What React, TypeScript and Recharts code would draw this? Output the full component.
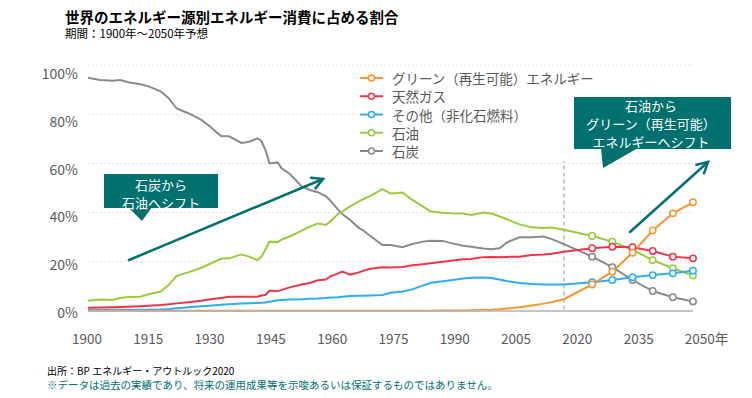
import React from "react";
import { LineChart, Line, XAxis, YAxis, CartesianGrid, ReferenceLine } from "recharts";

const years = [
  1900, 1903, 1906, 1908, 1910, 1913, 1915, 1918, 1920, 1922, 1925, 1928, 1930, 1933, 1935,
  1938, 1940, 1942, 1943, 1944, 1945, 1947, 1948, 1950, 1953, 1955, 1957, 1959, 1960, 1962,
  1963, 1965, 1967, 1968, 1970, 1973, 1975, 1978, 1980, 1983, 1985, 1988, 1990, 1993, 1995,
  1998, 2000, 2002, 2004, 2007, 2010, 2013, 2015, 2018, 2025, 2030, 2035, 2040, 2045, 2050,
];

const coal = [
  94.8, 93.9, 93.6, 93.9, 93.0, 92.2, 91.3, 89.3, 86.5, 82.3, 80.3, 77.8, 75.3, 71.1, 71.0,
  68.3, 68.8, 70.2, 69.0, 65.4, 60.0, 60.4, 58.0, 55.8, 50.6, 49.2, 48.3, 46.6, 45.0, 41.2,
  39.5, 37.0, 34.0, 33.0, 30.5, 26.8, 26.8, 25.9, 27.0, 28.2, 28.6, 28.5, 27.6, 26.5, 26.1,
  25.4, 25.1, 25.5, 28.0, 30.0, 30.0, 30.3, 29.2, 27.2, 22.1, 17.8, 12.6, 8.1, 5.6, 3.9,
];

const oil = [
  4.2, 4.7, 4.5, 5.3, 5.7, 5.8, 6.8, 7.9, 10.6, 14.3, 15.8, 17.5, 19.0, 21.2, 21.4,
  23.0, 22.1, 20.7, 22.0, 25.0, 28.2, 28.0, 29.0, 30.3, 32.7, 34.3, 35.6, 35.0, 36.3, 39.5,
  40.4, 42.5, 44.4, 45.3, 46.8, 49.5, 47.8, 48.2, 45.6, 42.5, 40.4, 39.9, 39.7, 39.6, 39.0,
  40.0, 39.6, 38.5, 37.2, 35.2, 34.0, 33.7, 33.9, 33.0, 30.5, 28.2, 24.8, 20.7, 17.4, 14.4,
];

const gas = [
  1.3, 1.4, 1.5, 1.6, 1.7, 1.9, 2.1, 2.4, 2.7, 3.1, 3.6, 4.2, 4.7, 5.3, 5.8,
  5.8, 5.8, 5.8, 6.3, 6.5, 8.3, 8.0, 8.6, 9.6, 10.8, 11.4, 12.5, 12.8, 14.0, 15.3,
  16.0, 14.8, 15.6, 16.2, 17.2, 17.8, 17.7, 17.9, 18.5, 19.0, 19.4, 20.0, 20.4, 21.0, 21.1,
  21.9, 22.0, 21.8, 22.0, 22.1, 22.8, 23.0, 23.3, 24.1, 25.5, 26.1, 25.9, 24.4, 22.1, 21.4,
];

const other = [
  0.5, 0.5, 0.5, 0.5, 0.5, 0.5, 0.5, 0.6, 0.8, 1.1, 1.5, 1.9, 2.1, 2.5, 2.7,
  3.0, 3.2, 3.3, 3.4, 3.5, 3.8, 4.4, 4.5, 4.7, 4.8, 5.0, 5.1, 5.3, 5.5, 5.6,
  5.8, 6.1, 6.2, 6.2, 6.3, 6.5, 7.4, 7.9, 8.6, 10.3, 11.5, 12.1, 12.5, 13.2, 13.5,
  13.6, 13.4, 12.8, 12.1, 11.4, 11.0, 10.8, 10.8, 10.8, 11.7, 12.6, 13.7, 14.6, 15.3, 16.4,
];

const renewables = [
  0.1, 0.1, 0.1, 0.1, 0.1, 0.1, 0.1, 0.1, 0.1, 0.1, 0.1, 0.1, 0.1, 0.1, 0.1,
  0.1, 0.1, 0.1, 0.1, 0.1, 0.1, 0.1, 0.1, 0.1, 0.1, 0.1, 0.1, 0.1, 0.1, 0.1,
  0.1, 0.1, 0.1, 0.1, 0.1, 0.1, 0.1, 0.1, 0.1, 0.1, 0.1, 0.2, 0.2, 0.2, 0.3,
  0.4, 0.5, 0.7, 1.0, 1.5, 2.2, 3.0, 3.6, 4.8, 10.8, 16.0, 23.7, 32.7, 39.7, 44.2,
];

const xTicks = [1900, 1915, 1930, 1945, 1960, 1975, 1990, 2005, 2020, 2035, 2050];
const yTicks = [0, 20, 40, 60, 80, 100];
const forecastFrom = 2018;
const markerFrom = 2025;

// draw order (last on top)
const series = [
  { key: "coal", name: "石炭", color: "#8C8890" },
  { key: "oil", name: "石油", color: "#9BCB3C" },
  { key: "other", name: "その他（非化石燃料）", color: "#2DAEF0" },
  { key: "gas", name: "天然ガス", color: "#F0354A" },
  { key: "renewables", name: "グリーン（再生可能）エネルギー", color: "#F7952E" },
];
const legendOrder = ["renewables", "gas", "other", "oil", "coal"];

const data = years.map((year, i) => ({
  year,
  coal: coal[i],
  oil: oil[i],
  gas: gas[i],
  other: other[i],
  renewables: renewables[i],
}));

const FONT = "'Noto Sans CJK JP', 'Noto Sans', sans-serif";
const TEAL = "#00716F";

const makeDot = (color: string) => (props: any) => {
  const { cx, cy, payload, index } = props;
  if (payload.year < markerFrom) return <g key={`d${index}`} />;
  return <circle key={`d${index}`} cx={cx} cy={cy} r={3.2} fill="#fff" stroke={color} strokeWidth={1.5} />;
};

const XTick = (props: any) => {
  const { x, y, payload } = props;
  const v = payload.value;
  const shift = -1 + (v - 1900) * 0.053 + (v === 2050 ? 6.5 : 0);
  return (
    <text x={x + shift} y={y + 19} textAnchor="middle" dominantBaseline="central" fontSize={13.5} fill="#595959" fontFamily={FONT}>
      {v === 2050 ? "2050年" : v}
    </text>
  );
};

const YTick = (props: any) => {
  const { x, y, payload } = props;
  const v = payload.value;
  return (
    <text x={x} y={y + 1 + v * 0.07} textAnchor="end" dominantBaseline="central" fontSize={14} fill="#595959" fontFamily={FONT}>
      {`${v}%`}
    </text>
  );
};

function arrowHead(x1: number, y1: number, x2: number, y2: number, len = 12) {
  const a = Math.atan2(y2 - y1, x2 - x1);
  const p = (da: number) => `${x2 - len * Math.cos(a + da)},${y2 - len * Math.sin(a + da)}`;
  return `M${p(0.5)} L${x2},${y2} L${p(-0.5)}`;
}

function Arrow({ x1, y1, x2, y2 }: { x1: number; y1: number; x2: number; y2: number }) {
  return (
    <g stroke={TEAL} strokeWidth={2.5} fill="none" strokeLinecap="round">
      <line x1={x1} y1={y1} x2={x2} y2={y2} />
      <path d={arrowHead(x1, y1, x2, y2)} />
    </g>
  );
}

export default function App() {
  return (
    <div style={{ position: "absolute", left: 0, top: 0, width: 752, height: 398, background: "#fff", fontFamily: FONT }}>
      <LineChart width={752} height={398} data={data} margin={{ top: 65, right: 59, bottom: 57, left: 28 }}>
        <CartesianGrid vertical={false} stroke="#EED8EE" strokeDasharray="2 2" />
        <XAxis
          dataKey="year"
          type="number"
          domain={[1900, 2050]}
          ticks={xTicks}
          height={30}
          tickLine={false}
          axisLine={{ stroke: "#B4B2BA", strokeWidth: 1.5 }}
          tick={<XTick />}
          interval={0}
        />
        <YAxis
          domain={[0, 100]}
          ticks={yTicks}
          width={60}
          tickLine={false}
          axisLine={false}
          tickMargin={4}
          tick={<YTick />}
          interval={0}
        />
        <ReferenceLine
          segment={[{ x: forecastFrom, y: 62 }, { x: forecastFrom, y: 0 }]}
          stroke="#B8B8B8"
          strokeWidth={1.5}
          strokeDasharray="4 3"
        />
        {series.map((s) => (
          <Line
            key={s.key}
            dataKey={s.key}
            name={s.name}
            type="linear"
            stroke={s.color}
            strokeWidth={2}
            dot={makeDot(s.color)}
            activeDot={false}
            isAnimationActive={false}
          />
        ))}
      </LineChart>

      <svg width={752} height={398} style={{ position: "absolute", left: 0, top: 0, pointerEvents: "none" }} fontFamily={FONT}>
        <text x={65} y={16} fontSize={14.5} fontWeight="bold" fill="#000" dominantBaseline="central">
          世界のエネルギー源別エネルギー消費に占める割合
        </text>
        <text x={65} y={33} fontSize={11.5} fill="#000" dominantBaseline="central">
          期間：1900年～2050年予想
        </text>

        {/* legend */}
        <rect x={357} y={66} width={246} height={95} fill="#fff" />
        {legendOrder.map((k, i) => {
          const s = series.find((d) => d.key === k)!;
          const ly = 78 + i * 18.25;
          return (
            <g key={k}>
              <line x1={360} y1={ly} x2={383} y2={ly} stroke={s.color} strokeWidth={2} />
              <circle cx={371.5} cy={ly} r={3} fill="#fff" stroke={s.color} strokeWidth={1.5} />
              <text x={392} y={ly} fontSize={13.5} fill="#595959" dominantBaseline="central">
                {s.name}
              </text>
            </g>
          );
        })}

        {/* callout: coal -> oil */}
        <rect x={104} y={174} width={114} height={34} fill={TEAL} />
        <polygon points="128,207 152,207 142,221" fill={TEAL} />
        <text x={161} y={184} fontSize={13} fill="#fff" textAnchor="middle" dominantBaseline="central">石炭から</text>
        <text x={161} y={202} fontSize={13} fill="#fff" textAnchor="middle" dominantBaseline="central">石油へシフト</text>
        <Arrow x1={129} y1={260} x2={323} y2={179} />

        {/* callout: oil -> renewables */}
        <rect x={574} y={97} width={157} height={52} fill={TEAL} />
        <polygon points="601,148 638,148 603,168" fill={TEAL} />
        <text x={651} y={105} fontSize={13} fill="#fff" textAnchor="middle" dominantBaseline="central">石油から</text>
        <text x={651} y={123} fontSize={13} fill="#fff" textAnchor="middle" dominantBaseline="central">グリーン（再生可能）</text>
        <text x={651} y={141} fontSize={13} fill="#fff" textAnchor="middle" dominantBaseline="central">エネルギーへシフト</text>
        <Arrow x1={630} y1={232} x2={708} y2={162} />

        {/* footer */}
        <text x={47} y={370.5} fontSize={10} fill="#000" dominantBaseline="central">
          出所：BP エネルギー・アウトルック2020
        </text>
        <text x={47} y={384} fontSize={10.5} fill={TEAL} dominantBaseline="central">
          ※データは過去の実績であり、将来の運用成果等を示唆あるいは保証するものではありません。
        </text>
      </svg>
    </div>
  );
}
